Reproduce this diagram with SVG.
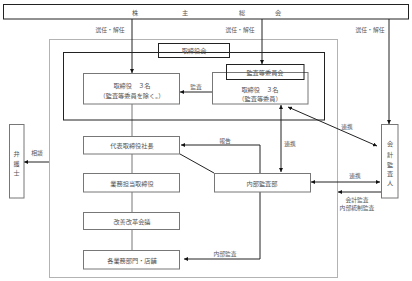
<svg xmlns="http://www.w3.org/2000/svg" width="412" height="281" viewBox="0 0 412 281">
<defs>
<style>
text{font-family:"Noto Sans CJK JP","Noto Sans CJK SC",sans-serif;font-size:6.2px;fill:#555;text-anchor:middle;dominant-baseline:central}
.sm{font-size:5.8px}
.box{fill:#fff;stroke:#777;stroke-width:1}
.frame{fill:none;stroke:#222;stroke-width:1}
.ln{fill:none;stroke:#222;stroke-width:1}
.gl{fill:none;stroke:#777;stroke-width:1}
.dot{fill:none;stroke:#666;stroke-width:1;stroke-dasharray:1 1}
</style>
<marker id="ah" viewBox="0 0 8 8" refX="8" refY="4" markerWidth="4" markerHeight="4" orient="auto-start-reverse" markerUnits="userSpaceOnUse"><path d="M0,0L8,4L0,8z" fill="#111"/></marker>
</defs>
<rect class="dot" x="49.5" y="39.5" width="288" height="238"/>
<g id="connectors">
<line class="ln" x1="132" y1="19" x2="132" y2="73" marker-end="url(#ah)"/>
<line class="ln" x1="262" y1="19" x2="262" y2="64" marker-end="url(#ah)"/>
<line class="ln" x1="389" y1="19" x2="389" y2="124" marker-end="url(#ah)"/>
<line class="ln" x1="212" y1="92" x2="180" y2="92" marker-end="url(#ah)"/>
<line class="gl" x1="132" y1="104" x2="132" y2="251"/>
<polyline class="ln" points="260,173 260,145 181,145" marker-end="url(#ah)"/>
<line class="ln" x1="180" y1="154" x2="214" y2="173"/>
<line class="ln" x1="281" y1="172" x2="281" y2="105" marker-start="url(#ah)" marker-end="url(#ah)"/>
<line class="ln" x1="288" y1="107" x2="377" y2="146" marker-start="url(#ah)" marker-end="url(#ah)"/>
<line class="ln" x1="311" y1="182" x2="380" y2="182" marker-start="url(#ah)" marker-end="url(#ah)"/>
<line class="ln" x1="381" y1="192" x2="338" y2="192" marker-end="url(#ah)"/>
<line class="ln" x1="49" y1="162" x2="24" y2="162" marker-end="url(#ah)"/>
<polyline class="ln" points="260,192 260,259 184,259" marker-end="url(#ah)"/>
</g>
<g id="kabunushi">
<rect class="frame" x="3.5" y="4.5" width="405" height="14.5" fill="#fff"/>
<text x="135" y="12">株</text><text x="185" y="12">主</text><text x="242" y="12">総</text><text x="278" y="12">会</text>
</g>
<text class="sm" x="110" y="29">選任・解任</text>
<text class="sm" x="240" y="29">選任・解任</text>
<text class="sm" x="370" y="29">選任・解任</text>
<g id="torishimariyakukai">
<rect class="frame" x="63.5" y="52.5" width="261" height="67.5"/>
<rect class="frame" x="158.5" y="43.5" width="71" height="14" fill="#fff"/>
<text x="194" y="50.5">取締役会</text>
</g>
<g id="director3">
<rect class="box" x="83.5" y="73.5" width="96" height="30.5"/>
<text x="132" y="85">取締役　３名</text>
<text x="132" y="95.5">（監査等委員を除く。）</text>
</g>
<text class="sm" x="196" y="86">監査</text>
<g id="auditcommittee">
<rect class="box" x="212.5" y="72.5" width="95.5" height="31.5"/>
<rect class="frame" x="226.5" y="64.5" width="77.5" height="15" fill="#fff"/>
<text x="265" y="72">監査等委員会</text>
<text x="260" y="89">取締役　３名</text>
<text x="260" y="98.5">（監査等委員）</text>
</g>
<g id="bengoshi">
<rect class="box" x="9.5" y="124.5" width="14.5" height="73.5"/>
<text x="16.5" y="153">弁</text><text x="16.5" y="163">護</text><text x="16.5" y="172.5">士</text>
</g>
<text class="sm" x="37" y="152">相談</text>
<g id="president">
<rect class="box" x="83.5" y="136.5" width="96" height="17.5"/>
<text x="132" y="145.5">代表取締役社長</text>
</g>
<text class="sm" x="225" y="140">報告</text>
<text class="sm" x="290" y="143">連携</text>
<text class="sm" x="347" y="126">連携</text>
<g id="gyomu">
<rect class="box" x="83.5" y="173.5" width="96" height="18.5"/>
<text x="132" y="183">業務担当取締役</text>
</g>
<g id="internalaudit">
<rect class="box" x="214.5" y="173.5" width="96" height="18.5"/>
<text x="262" y="183">内部監査部</text>
</g>
<g id="kaikei">
<rect class="box" x="381.5" y="124.5" width="16.5" height="73.5"/>
<text x="390" y="143">会</text><text x="390" y="154">計</text><text x="390" y="164">監</text><text x="390" y="173">査</text><text x="390" y="182">人</text>
</g>
<text class="sm" x="355" y="175">連携</text>
<text class="sm" x="357" y="199">会計監査</text>
<text class="sm" x="357" y="207.5">内部統制監査</text>
<g id="kaizen">
<rect class="box" x="83.5" y="212.5" width="96" height="17"/>
<text x="132" y="221">改善改革会議</text>
</g>
<g id="bumon">
<rect class="box" x="83.5" y="250.5" width="96" height="18.5"/>
<text x="132" y="260">各業務部門・店舗</text>
</g>
<text class="sm" x="225" y="253">内部監査</text>
</svg>
